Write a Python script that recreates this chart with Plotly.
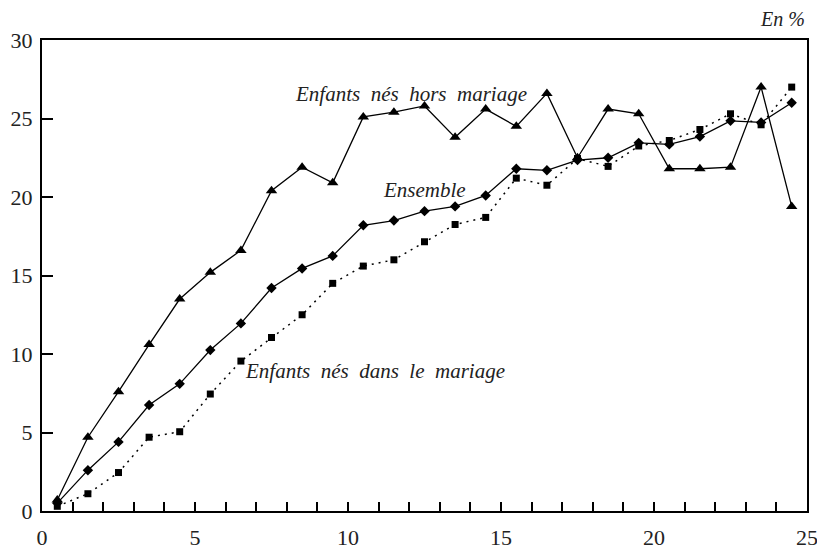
import plotly.graph_objects as go

# durée (années) -> milieu de chaque classe
x_years = [i + 0.5 for i in range(25)]

hors_mariage = [0.7, 4.7, 7.6, 10.6, 13.5, 15.2, 16.6, 20.4, 21.9, 20.9,
                25.1, 25.4, 25.8, 23.8, 25.6, 24.5, 26.6, 22.5, 25.6, 25.3,
                21.8, 21.8, 21.9, 27.0, 19.4]
ensemble = [0.5, 2.6, 4.4, 6.75, 8.1, 10.25, 11.95, 14.2, 15.45, 16.25,
            18.2, 18.5, 19.1, 19.4, 20.1, 21.8, 21.7, 22.35, 22.5, 23.45,
            23.35, 23.85, 24.85, 24.75, 26.0]
dans_mariage = [0.3, 1.1, 2.45, 4.7, 5.05, 7.45, 9.55, 11.05, 12.5, 14.5,
                15.6, 16.0, 17.15, 18.25, 18.7, 21.2, 20.75, 22.45, 21.95, 23.25,
                23.6, 24.3, 25.3, 24.6, 27.0]

serif = '"Liberation Serif", "Times New Roman", Times, serif'

fig = go.Figure()
fig.add_trace(go.Scatter(x=x_years, y=hors_mariage, mode="lines+markers",
                         line=dict(color="black", width=1.3),
                         marker=dict(symbol="triangle-up", size=10, color="black")))
fig.add_trace(go.Scatter(x=x_years, y=ensemble, mode="lines+markers",
                         line=dict(color="black", width=1.3),
                         marker=dict(symbol="diamond", size=8, color="black")))
fig.add_trace(go.Scatter(x=x_years, y=dans_mariage, mode="lines+markers",
                         line=dict(color="black", width=1.5, dash="2px,5px"),
                         marker=dict(symbol="square", size=7, color="black")))

labels = [
    ("Enfants\u00a0 nés\u00a0 hors\u00a0 mariage", 12.06, 26.56),
    ("Ensemble", 12.5, 20.45),
    ("Enfants\u00a0 nés\u00a0 dans\u00a0 le\u00a0 mariage", 10.87, 8.9),
]
for txt, ax, ay in labels:
    fig.add_annotation(x=ax, y=ay, text=txt, showarrow=False,
                       font=dict(family=serif, size=21, color="#222", style="italic"))
fig.add_annotation(x=1, y=1, xref="paper", yref="paper", yshift=8,
                   xanchor="right", yanchor="bottom", showarrow=False,
                   text="En %", font=dict(family=serif, size=20, color="#222", style="italic"))

fig.update_xaxes(range=[0, 25], dtick=5, ticks="inside", ticklen=9, tickwidth=1.5,
                 tickcolor="black", showline=True, linecolor="black", linewidth=2,
                 mirror=True, showgrid=False, zeroline=False, automargin=False,
                 ticklabelstandoff=6, ticklabeloverflow="allow",
                 minor=dict(dtick=1, ticks="inside", ticklen=9, tickwidth=1.5,
                            tickcolor="black", showgrid=False),
                 tickfont=dict(family=serif, size=22, color="#222"))
fig.update_yaxes(range=[0, 30], dtick=5, ticks="inside", ticklen=11, tickwidth=1.5,
                 tickcolor="black", showline=True, linecolor="black", linewidth=2,
                 mirror=True, showgrid=False, zeroline=False, automargin=False,
                 ticklabelstandoff=3, ticklabeloverflow="allow",
                 tickfont=dict(family=serif, size=22, color="#222"))

fig.update_layout(width=817, height=550, showlegend=False,
                  plot_bgcolor="white", paper_bgcolor="white",
                  margin=dict(l=42, r=10, t=40, b=39))

# pas de marge de page autour du graphique, pas de barre d'outils
fig.write_html("out.html", config={"displayModeBar": False},
               post_script="document.body.style.margin='0';")
